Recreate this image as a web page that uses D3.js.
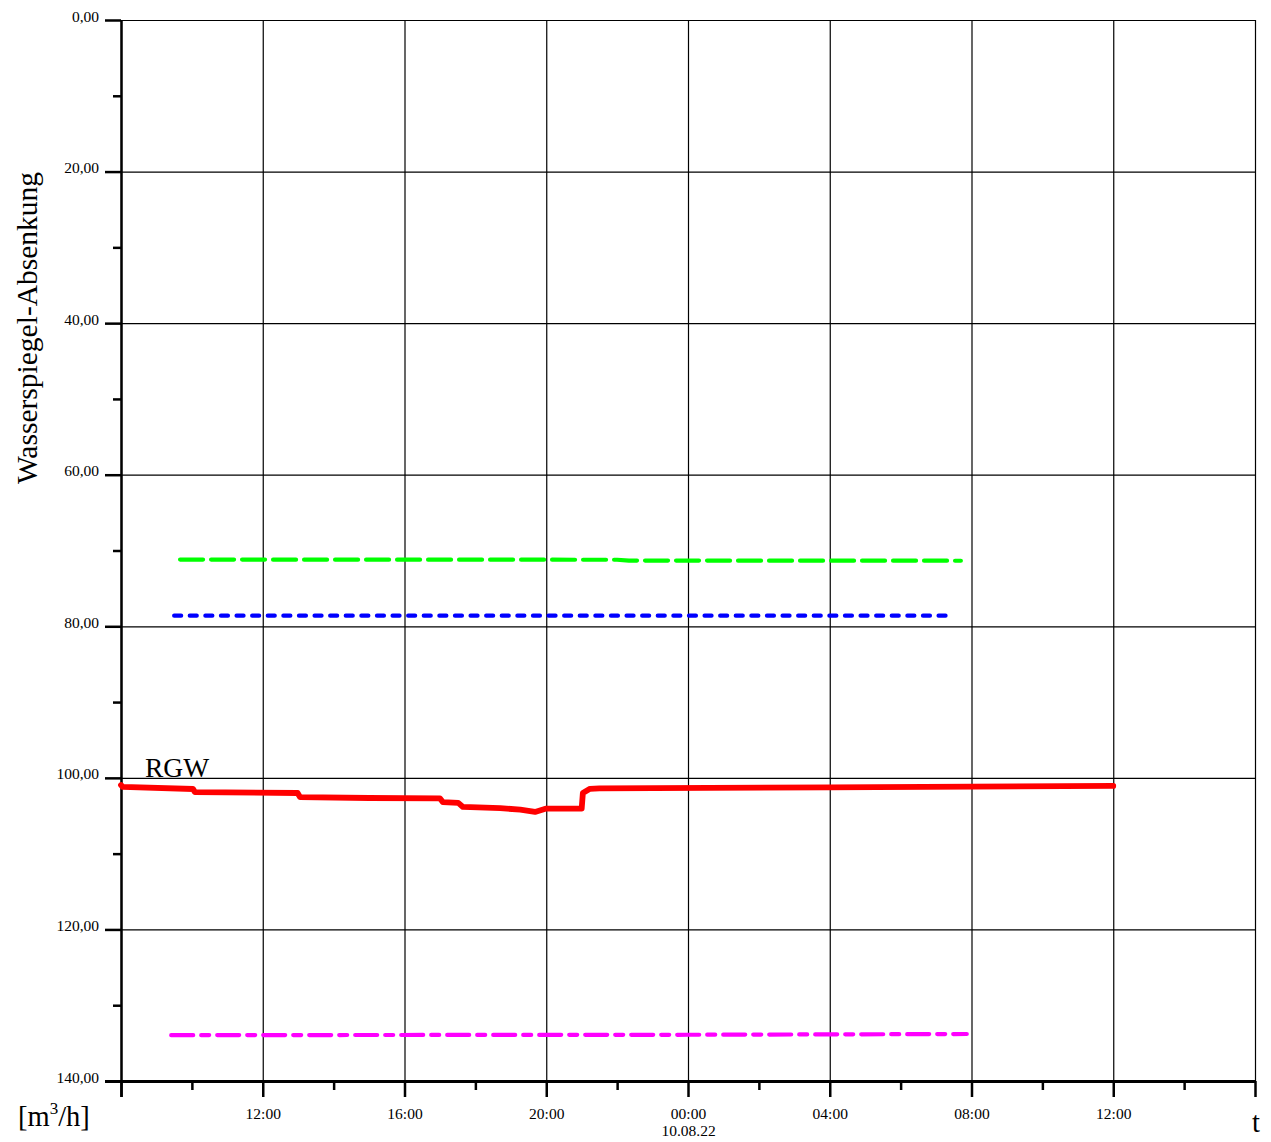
<!DOCTYPE html>
<html>
<head>
<meta charset="utf-8">
<script src="https://cdn.jsdelivr.net/npm/d3@7"></script>
<style>
  html, body { margin: 0; padding: 0; background: #fff; }
  svg { display: block; }
  text { font-family: "Liberation Serif", "Times New Roman", serif; fill: #000; }
</style>
</head>
<body>
<svg id="chart" width="1271" height="1142"></svg>
<script>
// ---------- data ----------
const xDomain = ["2022-08-09T08:00", "2022-08-10T16:00"];
const yDomain = [0, 140];
const yTickValues = [0, 20, 40, 60, 80, 100, 120, 140];
const yMinorValues = [10, 30, 50, 70, 90, 110, 130];
const xMajorTimes = ["2022-08-09T08:00", "2022-08-09T12:00", "2022-08-09T16:00", "2022-08-09T20:00",
  "2022-08-10T00:00", "2022-08-10T04:00", "2022-08-10T08:00", "2022-08-10T12:00", "2022-08-10T16:00"];
const xMinorTimes = ["2022-08-09T10:00", "2022-08-09T14:00", "2022-08-09T18:00", "2022-08-09T22:00",
  "2022-08-10T02:00", "2022-08-10T06:00", "2022-08-10T10:00", "2022-08-10T14:00"];
const xLabelTimes = ["2022-08-09T12:00", "2022-08-09T16:00", "2022-08-09T20:00", "2022-08-10T00:00",
  "2022-08-10T04:00", "2022-08-10T08:00", "2022-08-10T12:00"];
const xLabels = ["12:00", "16:00", "20:00", "00:00", "04:00", "08:00", "12:00"];
const xSubLabels = ["", "", "", "10.08.22", "", "", ""];

const greenTimes = ["2022-08-09T09:40", "2022-08-09T22:00", "2022-08-09T22:20", "2022-08-10T07:42"];
const greenValues = [71.2, 71.22, 71.33, 71.35];

const blueTimes = ["2022-08-09T09:30", "2022-08-10T07:28"];
const blueValues = [78.6, 78.6];

const magentaTimes = ["2022-08-09T09:25", "2022-08-10T00:00", "2022-08-10T07:52"];
const magentaValues = [133.95, 133.9, 133.8];

const redTimes = ["2022-08-09T08:00", "2022-08-09T08:03", "2022-08-09T10:02", "2022-08-09T10:05",
  "2022-08-09T12:59", "2022-08-09T13:03", "2022-08-09T15:00", "2022-08-09T17:00", "2022-08-09T17:05",
  "2022-08-09T17:31", "2022-08-09T17:39", "2022-08-09T18:42", "2022-08-09T19:16", "2022-08-09T19:41",
  "2022-08-09T20:00", "2022-08-09T21:00", "2022-08-09T21:02", "2022-08-09T21:14", "2022-08-09T21:30",
  "2022-08-10T04:00", "2022-08-10T12:00"];
const redValues = [100.95, 101.2, 101.47, 101.87,
  102.0, 102.53, 102.66, 102.72, 103.19,
  103.3, 103.84, 104.0, 104.2, 104.5,
  104.05, 104.05, 102.0, 101.45, 101.38,
  101.25, 101.07];

const seriesLabel = "RGW";
const yTitle = "Wasserspiegel-Absenkung";
const xTitle = "t";

// ---------- setup ----------
const parse = d3.timeParse("%Y-%m-%dT%H:%M");
const svg = d3.select("#chart");
const L = 121, R = 1255, T = 20, B = 1081;

const x = d3.scaleTime().domain(xDomain.map(parse)).range([L, R]);
const y = d3.scaleLinear().domain(yDomain).range([T, B]);

const fmt = d3.formatLocale({decimal: ",", thousands: ".", grouping: [3], currency: ["", ""]}).format(".2f");

// gridlines
const grid = svg.append("g");
grid.selectAll("line.h").data(yTickValues).join("line")
  .attr("x1", L).attr("x2", R)
  .attr("y1", d => y(d) + 0.5).attr("y2", d => y(d) + 0.5)
  .attr("stroke", "#000").attr("stroke-width", 1.2);
grid.selectAll("line.v").data(xMajorTimes.map(parse)).join("line")
  .attr("x1", d => x(d) + 0.5).attr("x2", d => x(d) + 0.5)
  .attr("y1", T).attr("y2", B)
  .attr("stroke", "#000").attr("stroke-width", 1.2);

// y axis
const yAxis = svg.append("g");
yAxis.append("line").attr("x1", L + 0.5).attr("x2", L + 0.5).attr("y1", T).attr("y2", B + 16)
  .attr("stroke", "#000").attr("stroke-width", 2.5);
yAxis.selectAll("line.maj").data(yTickValues).join("line")
  .attr("class", "maj")
  .attr("x1", L - 16).attr("x2", L).attr("y1", d => y(d) + 0.5).attr("y2", d => y(d) + 0.5)
  .attr("stroke", "#000").attr("stroke-width", 2.5);
yAxis.selectAll("line.min").data(yMinorValues).join("line")
  .attr("class", "min")
  .attr("x1", L - 8).attr("x2", L).attr("y1", d => y(d) + 0.5).attr("y2", d => y(d) + 0.5)
  .attr("stroke", "#000").attr("stroke-width", 2.5);
yAxis.selectAll("text").data(yTickValues).join("text")
  .attr("x", 99).attr("y", d => y(d) + 1.5)
  .attr("text-anchor", "end").attr("font-size", 15.5)
  .text(d => fmt(d));

// x axis
const xAxis = svg.append("g");
xAxis.append("line").attr("x1", L - 16).attr("x2", R + 1).attr("y1", B + 0.5).attr("y2", B + 0.5)
  .attr("stroke", "#000").attr("stroke-width", 2.8);
xAxis.selectAll("line.maj").data(xMajorTimes.map(parse)).join("line")
  .attr("class", "maj")
  .attr("x1", d => x(d) + 0.5).attr("x2", d => x(d) + 0.5).attr("y1", B).attr("y2", B + 16)
  .attr("stroke", "#000").attr("stroke-width", 2.5);
xAxis.selectAll("line.min").data(xMinorTimes.map(parse)).join("line")
  .attr("class", "min")
  .attr("x1", d => x(d) + 0.5).attr("x2", d => x(d) + 0.5).attr("y1", B).attr("y2", B + 9)
  .attr("stroke", "#000").attr("stroke-width", 2.5);
xAxis.selectAll("text.lab").data(xLabelTimes.map(parse)).join("text")
  .attr("class", "lab")
  .attr("x", d => x(d) + 0.5).attr("y", 1119)
  .attr("text-anchor", "middle").attr("font-size", 15.5)
  .text((d, i) => xLabels[i]);
xAxis.selectAll("text.sub").data(xLabelTimes.map(parse)).join("text")
  .attr("class", "sub")
  .attr("x", d => x(d) + 0.5).attr("y", 1136)
  .attr("text-anchor", "middle").attr("font-size", 15.5)
  .text((d, i) => xSubLabels[i]);

// titles
svg.append("text")
  .attr("transform", "translate(37,328) rotate(-90)")
  .attr("text-anchor", "middle").attr("font-size", 29.5)
  .text(yTitle);
const unit = svg.append("text").attr("x", 18).attr("y", 1126).attr("font-size", 28.5);
unit.append("tspan").text("[m");
unit.append("tspan").attr("font-size", 17).attr("dy", -12).text("3");
unit.append("tspan").attr("dy", 12).text("/h]");
svg.append("text").attr("x", R + 1).attr("y", 1132).attr("text-anchor", "middle")
  .attr("font-size", 28.5).text(xTitle);

// series
const line = d3.line().x(d => x(d[0])).y(d => y(d[1]));
function draw(times, values, color, width, dash) {
  const pts = times.map((t, i) => [parse(t), values[i]]);
  svg.append("path").datum(pts)
    .attr("d", line)
    .attr("fill", "none")
    .attr("stroke", color)
    .attr("stroke-width", width)
    .attr("stroke-linecap", "round")
    .attr("stroke-linejoin", "round")
    .attr("stroke-dasharray", dash);
}
draw(greenTimes, greenValues, "#00ff00", 4.2, "23,8");
draw(blueTimes, blueValues, "#0000ff", 4.2, "7,8.6");
draw(magentaTimes, magentaValues, "#ff00ff", 4.2, "22,8,8,8");
draw(redTimes, redValues, "#ff0000", 5.8, null);

svg.append("text").attr("x", 145).attr("y", 777).attr("font-size", 27.5).text(seriesLabel);
</script>
</body>
</html>
